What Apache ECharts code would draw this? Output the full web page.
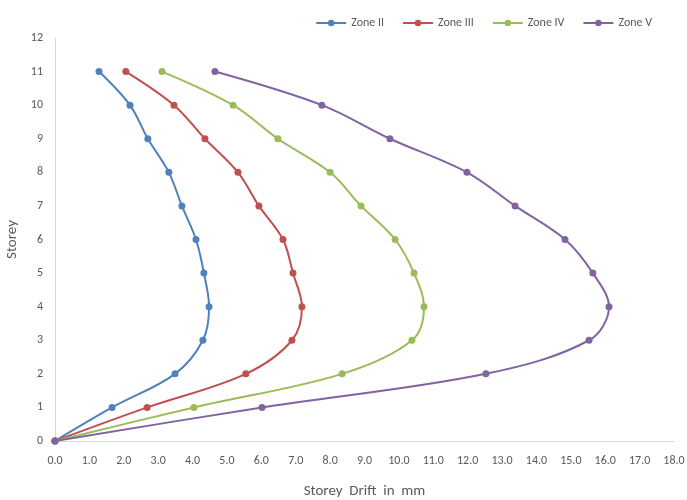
<!DOCTYPE html>
<html><head><meta charset="utf-8">
<script src="https://cdn.jsdelivr.net/npm/echarts@6/dist/echarts.min.js"></script>
<style>html,body{margin:0;padding:0;background:#fff}#c{width:687px;height:500px}</style>
</head><body><div id="c"></div>
<script>
const storeys = [0,1,2,3,4,5,6,7,8,9,10,11];
const zone2 = [0,1.66,3.49,4.30,4.48,4.33,4.10,3.69,3.31,2.70,2.18,1.28];
const zone3 = [0,2.68,5.55,6.89,7.18,6.92,6.63,5.93,5.32,4.36,3.46,2.06];
const zone4 = [0,4.04,8.35,10.38,10.73,10.44,9.89,8.90,8.00,6.48,5.18,3.11];
const zone5 = [0,6.02,12.53,15.53,16.11,15.64,14.83,13.38,11.98,9.74,7.76,4.65];
const names = ['Zone II','Zone III','Zone IV','Zone V'];
const colors = ['#4F81BD','#C0504D','#9BBB59','#8064A2'];
const all = [zone2, zone3, zone4, zone5];
const font = 'Calibri, "Liberation Sans", "Open Sans", sans-serif';
const chart = echarts.init(document.getElementById('c'));
chart.setOption({
  animation: false,
  backgroundColor: '#fff',
  legend: {
    top: 12, right: 30, itemWidth: 30, itemHeight: 8, itemGap: 18,
    textStyle: {fontSize: 12, color: '#595959', fontFamily: font},
    data: names
  },
  grid: {left: 55, right: 13, top: 38, bottom: 59, outerBoundsMode: 'none', containLabel: false},
  xAxis: {
    type: 'value', min: 0, max: 18, interval: 1,
    name: 'Storey  Drift  in  mm', nameLocation: 'middle', nameGap: 43,
    nameTextStyle: {fontSize: 15, color: '#595959', fontFamily: font},
    axisLine: {lineStyle: {color: '#D9D9D9', width: 1}},
    axisTick: {show: false}, splitLine: {show: false},
    axisLabel: {color: '#595959', fontSize: 12, fontFamily: font, margin: 14,
      formatter: v => v.toFixed(1)}
  },
  yAxis: {
    type: 'value', min: 0, max: 12, interval: 1,
    name: 'Storey', nameLocation: 'middle', nameGap: 33, nameRotate: 90,
    nameTextStyle: {fontSize: 15, color: '#595959', fontFamily: font},
    axisLine: {show: true, lineStyle: {color: '#D9D9D9', width: 1}},
    axisTick: {show: false}, splitLine: {show: false},
    axisLabel: {color: '#595959', fontSize: 12, fontFamily: font, margin: 12}
  },
  series: all.map((d, i) => ({
    name: names[i], type: 'line', smooth: 0.35,
    data: d.map((x, k) => [x, storeys[k]]),
    symbol: 'circle', symbolSize: 7,
    itemStyle: {color: colors[i]},
    lineStyle: {color: colors[i], width: 2}
  }))
});
</script></body></html>
